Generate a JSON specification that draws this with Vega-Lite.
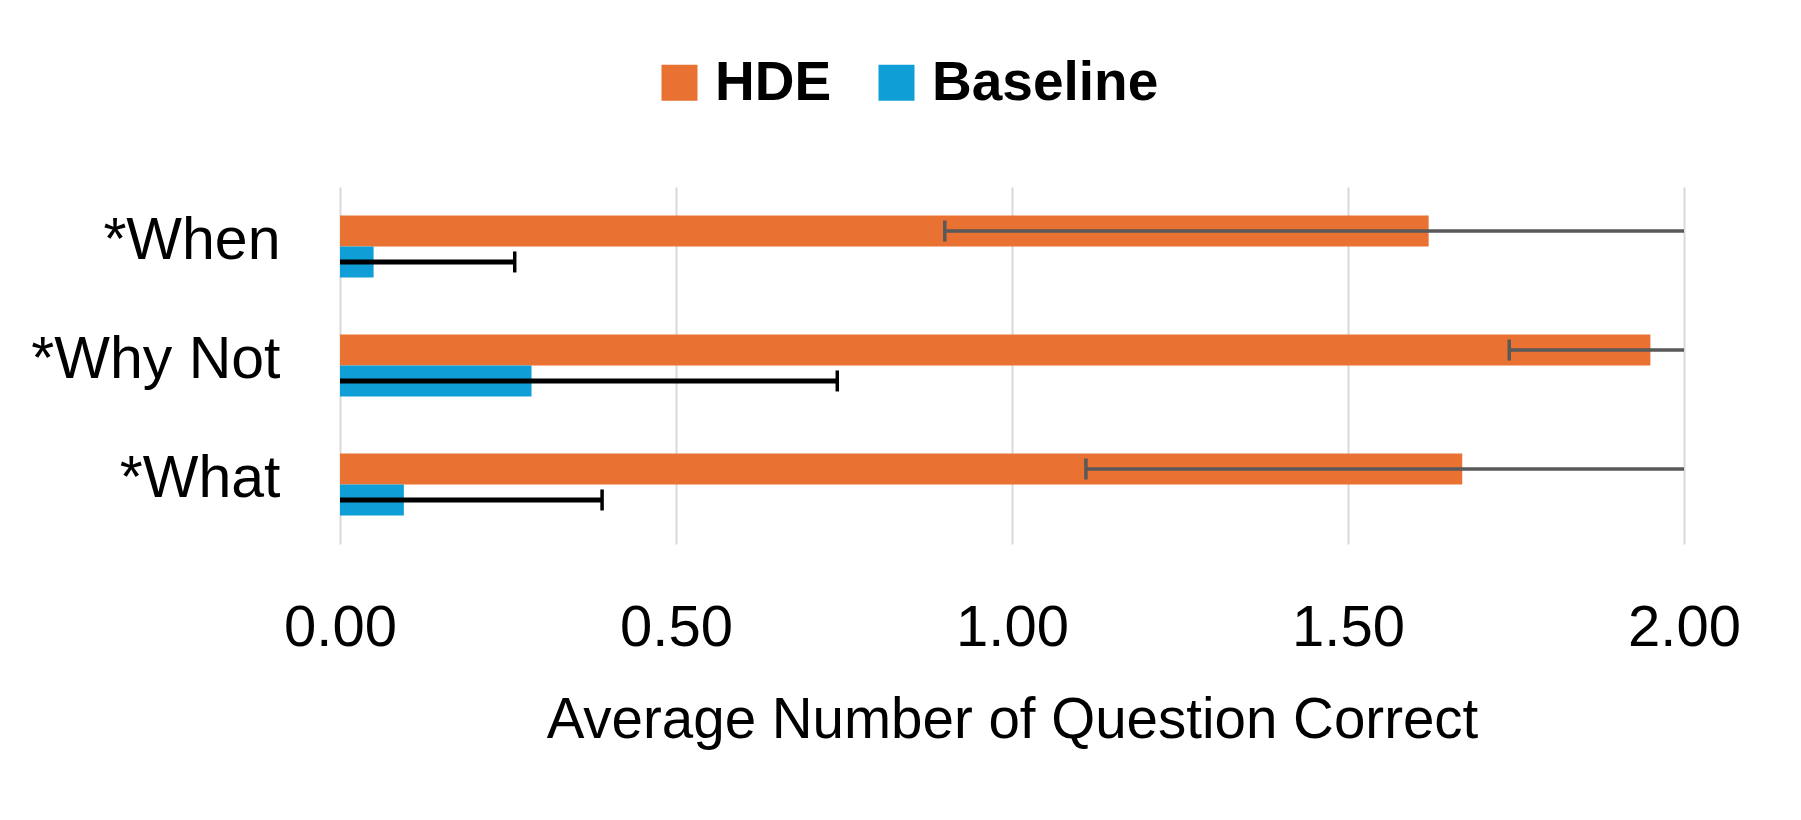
{
  "$schema": "https://vega.github.io/schema/vega-lite/v6.json",
  "width": 1344,
  "height": 357,
  "autosize": {"type": "none"},
  "padding": {"left": 340, "top": 187, "right": 117, "bottom": 276},
  "background": "#ffffff",
  "config": {
    "view": {"stroke": null},
    "font": "Liberation Sans"
  },
  "data": {
    "values": [
      {"category": "*When", "group": "HDE", "value": 1.62, "lower": 0.90, "upper": 2.34},
      {"category": "*Why Not", "group": "HDE", "value": 1.95, "lower": 1.74, "upper": 2.16},
      {"category": "*What", "group": "HDE", "value": 1.67, "lower": 1.11, "upper": 2.23},
      {"category": "*When", "group": "Baseline", "value": 0.05, "lower": -0.16, "upper": 0.26},
      {"category": "*Why Not", "group": "Baseline", "value": 0.285, "lower": -0.17, "upper": 0.74},
      {"category": "*What", "group": "Baseline", "value": 0.095, "lower": -0.2, "upper": 0.39}
    ]
  },
  "encoding": {
    "y": {
      "field": "category",
      "type": "nominal",
      "title": null,
      "scale": {"domain": ["*When", "*Why Not", "*What"], "paddingInner": 0.48, "paddingOuter": 0.24},
      "axis": {
        "domain": false,
        "ticks": false,
        "tickSize": 0,
        "labelPadding": 60,
        "labelOffset": -6,
        "labelLimit": 400,
        "labelFont": "Liberation Sans",
        "labelFontSize": 59,
        "labelColor": "#000000",
        "grid": false
      }
    },
    "yOffset": {
      "field": "group",
      "type": "nominal",
      "scale": {"domain": ["HDE", "Baseline"], "paddingInner": 0, "paddingOuter": 0}
    }
  },
  "layer": [
    {
      "mark": {"type": "bar", "clip": true},
      "encoding": {
        "x": {
          "field": "value",
          "type": "quantitative",
          "scale": {"domain": [0, 2], "nice": false, "zero": true},
          "title": "Average Number of Question Correct",
          "axis": {
            "values": [0, 0.5, 1, 1.5, 2],
            "format": ".2f",
            "domain": false,
            "ticks": false,
            "tickSize": 0,
            "grid": true,
            "gridColor": "#D9D9D9",
            "gridWidth": 2,
            "labelFlush": false,
            "labelOverlap": false,
            "labelFont": "Liberation Sans",
            "labelFontSize": 58,
            "labelColor": "#000000",
            "labelBaseline": "alphabetic",
            "labelPadding": 101,
            "titleFont": "Liberation Sans",
            "titleFontSize": 56.5,
            "titleFontWeight": "normal",
            "titleColor": "#000000",
            "titleBaseline": "alphabetic",
            "titleY": 193,
            "titleX": 672,
            "titleAlign": "center"
          }
        },
        "color": {
          "field": "group",
          "type": "nominal",
          "scale": {"domain": ["HDE", "Baseline"], "range": ["#E97132", "#0F9ED5"]},
          "legend": {
            "title": null,
            "orient": "none",
            "direction": "horizontal",
            "legendX": 312,
            "legendY": -132,
            "symbolType": "square",
            "symbolSize": 1296,
            "symbolStrokeWidth": 0,
            "symbolOpacity": 1,
            "labelFont": "Liberation Sans",
            "labelFontSize": 55,
            "labelFontWeight": "bold",
            "labelColor": "#000000",
            "labelOffset": 8,
            "columnPadding": 37,
            "labelLimit": 400
          }
        }
      }
    },
    {
      "mark": {"type": "rule", "clip": true},
      "encoding": {
        "x": {"field": "lower", "type": "quantitative"},
        "x2": {"field": "upper"},
        "stroke": {"condition": {"test": "datum.group === 'HDE'", "value": "#595959"}, "value": "#000000"},
        "strokeWidth": {"condition": {"test": "datum.group === 'HDE'", "value": 3.5}, "value": 5}
      }
    },
    {
      "mark": {"type": "tick", "clip": true, "size": 21, "thickness": 3.5, "opacity": 1},
      "encoding": {
        "x": {"field": "lower", "type": "quantitative"},
        "color": {"condition": {"test": "datum.group === 'HDE'", "value": "#595959"}, "value": "#000000"}
      }
    },
    {
      "mark": {"type": "tick", "clip": true, "size": 21, "thickness": 3.5, "opacity": 1},
      "encoding": {
        "x": {"field": "upper", "type": "quantitative"},
        "color": {"condition": {"test": "datum.group === 'HDE'", "value": "#595959"}, "value": "#000000"}
      }
    }
  ]
}
